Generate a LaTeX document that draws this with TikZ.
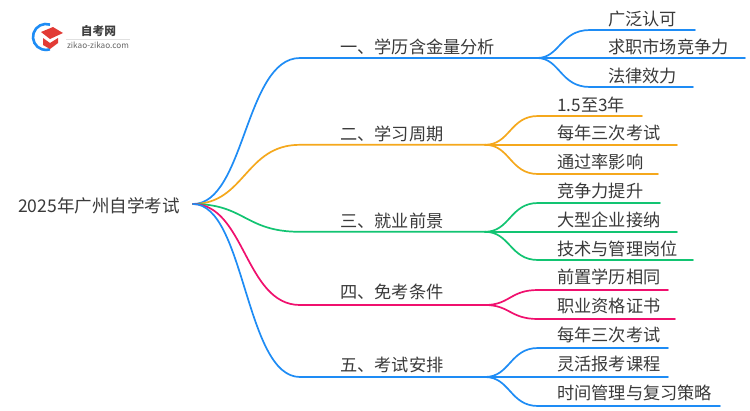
\documentclass[tikz,border=0pt]{standalone}
\usepackage{fontspec}
\setmainfont{Noto Sans CJK SC}
\definecolor{cblue}{HTML}{1E8CF5}
\definecolor{corange}{HTML}{F5A81C}
\definecolor{cgreen}{HTML}{12C472}
\definecolor{cpink}{HTML}{F0106E}
\definecolor{ctext}{HTML}{3A3A3A}
\definecolor{capred}{HTML}{E23B35}
\tikzset{
  wire/.style={line width=1.7pt,line cap=round},
  main/.style={wire,draw=#1},
  txt/.style={anchor=base west,inner sep=0pt,text=ctext,font=\fontsize{17.2}{18}\selectfont},
  lbl/.style={anchor=base west,inner sep=0pt,text=ctext,font=\fontsize{17.2}{18}\selectfont},
}
\begin{document}
\begin{tikzpicture}[x=1pt,y=-1pt]
\useasboundingbox (0,0) rectangle (750,410);
\fill[white] (0,0) rectangle (750,410);
% logo
\draw[cblue,line width=2.6pt] (50,24.6) arc[start angle=-72,end angle=-288,radius=13];
\fill[capred] (41,32) -- (53,27) -- (63,33) -- (50,39) -- cycle;
\fill[capred] (43,38) -- (50,43) -- (58,38) -- (58,43) -- (50,49) -- (43,45) -- cycle;
\node[anchor=center,inner sep=0pt,font=\fontsize{11.7}{12}\selectfont\bfseries,text=black!75] (logotitle) at (98.5,31) {自考网};
\node[anchor=center,inner sep=0pt,font=\fontsize{8.2}{9}\selectfont,text=black!60] (logosub) at (98,45) {zikao-zikao.com};
\draw[black!12,line width=0.5pt] (66,39) -- (130,39);
% root
\node[txt,font=\fontsize{17.55}{18}\selectfont] (root) at (18,212) {2025年广州自学考试};
\coordinate (r) at (193,204);
% branch anchors
\coordinate (b1) at (300,58);  \coordinate (e1) at (537,58);
\coordinate (b2) at (300,144.8); \coordinate (e2) at (485,144.8);
\coordinate (b3) at (300,231.8); \coordinate (e3) at (485,231.8);
\coordinate (b4) at (300,305); \coordinate (e4) at (485,305);
\coordinate (b5) at (300,377); \coordinate (e5) at (485,377);
\draw[main=cblue]   (r) .. controls (245,204) and (245,58)  .. (b1) -- (e1);
\draw[main=corange] (r) .. controls (245,204) and (245,144.8) .. (b2) -- (e2);
\draw[main=cgreen]  (r) .. controls (245,204) and (245,231.8) .. (b3) -- (e3);
\draw[main=cpink]   (r) .. controls (245,204) and (245,305) .. (b4) -- (e4);
\draw[main=cblue]   (r) .. controls (245,204) and (245,377) .. (b5) -- (e5);
\node[txt] (t1) at (340,53) {一、学历含金量分析};
\node[txt] (t2) at (340,140) {二、学习周期};
\node[txt] (t3) at (340,227) {三、就业前景};
\node[txt] (t4) at (340,298) {四、免考条件};
\node[txt] (t5) at (340,371) {五、考试安排};
% leaf wires
\coordinate (a1) at (590,30); \coordinate (a1e) at (695,30);
\coordinate (a2e) at (745,58);
\coordinate (a3) at (590,87); \coordinate (a3e) at (693,87);
\draw[main=cblue] (e1) .. controls (560,58) and (560,30) .. (a1) -- (a1e);
\draw[main=cblue] (e1) -- (a2e);
\draw[main=cblue] (e1) .. controls (560,58) and (560,87) .. (a3) -- (a3e);
\node[lbl] at (608,25) {广泛认可};
\node[lbl] at (608,53) {求职市场竞争力};
\node[lbl] at (608,82) {法律效力};
\coordinate (c1) at (538,116); \coordinate (c1e) at (642,116);
\coordinate (c2e) at (677,144.8);
\coordinate (c3) at (538,174); \coordinate (c3e) at (658,174);
\draw[main=corange] (e2) .. controls (510,144.8) and (510,116) .. (c1) -- (c1e);
\draw[main=corange] (e2) -- (c2e);
\draw[main=corange] (e2) .. controls (510,144.8) and (510,174) .. (c3) -- (c3e);
\node[lbl] at (557,111) {1.5至3年};
\node[lbl] at (557,139) {每年三次考试};
\node[lbl] at (557,168) {通过率影响};
\coordinate (d1) at (538,203); \coordinate (d1e) at (660,203);
\coordinate (d2e) at (677,231.8);
\coordinate (d3) at (538,260); \coordinate (d3e) at (693,260);
\draw[main=cgreen] (e3) .. controls (510,231.8) and (510,203) .. (d1) -- (d1e);
\draw[main=cgreen] (e3) -- (d2e);
\draw[main=cgreen] (e3) .. controls (510,231.8) and (510,260) .. (d3) -- (d3e);
\node[lbl] at (557,197) {竞争力提升};
\node[lbl] at (557,226) {大型企业接纳};
\node[lbl] at (557,255) {技术与管理岗位};
\coordinate (f1) at (538,290); \coordinate (f1e) at (668,290);
\coordinate (f2) at (538,319); \coordinate (f2e) at (675,319);
\draw[main=cpink] (e4) .. controls (510,305) and (510,290) .. (f1) -- (f1e);
\draw[main=cpink] (e4) .. controls (510,305) and (510,319) .. (f2) -- (f2e);
\node[lbl] at (557,283) {前置学历相同};
\node[lbl] at (557,312) {职业资格证书};
\coordinate (g1) at (538,348); \coordinate (g1e) at (668,348);
\coordinate (g2e) at (668,377);
\coordinate (g3) at (538,406); \coordinate (g3e) at (720,406);
\draw[main=cblue] (e5) .. controls (510,377) and (510,348) .. (g1) -- (g1e);
\draw[main=cblue] (e5) -- (g2e);
\draw[main=cblue] (e5) .. controls (510,377) and (510,406) .. (g3) -- (g3e);
\node[lbl] at (557,341) {每年三次考试};
\node[lbl] at (557,370) {灵活报考课程};
\node[lbl] at (557,399) {时间管理与复习策略};
\end{tikzpicture}
\end{document}
